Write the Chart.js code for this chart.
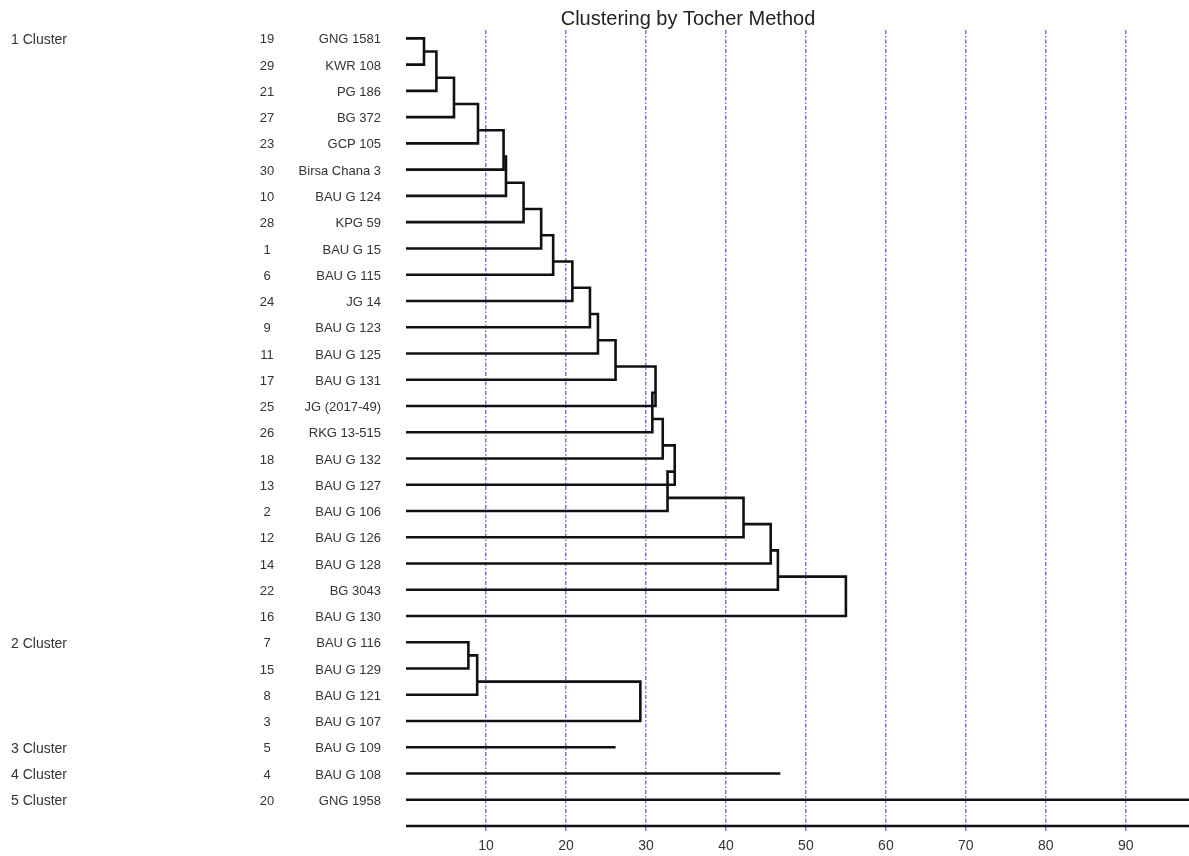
<!DOCTYPE html>
<html>
<head>
<meta charset="utf-8">
<script src="https://cdn.jsdelivr.net/npm/chart.js@4.4.1/dist/chart.umd.min.js"></script>
<style>
  html, body { margin: 0; padding: 0; background: #fff; }
  #wrap { width: 1189px; height: 856px; position: relative; }
</style>
</head>
<body>
<div id="wrap"><canvas id="myChart"></canvas></div>
<script>
// leaves, top to bottom
const leafIds = [19, 29, 21, 27, 23, 30, 10, 28, 1, 6, 24, 9, 11, 17, 25, 26, 18, 13, 2, 12, 14, 22, 16, 7, 15, 8, 3, 5, 4, 20];
const leafNames = ['GNG 1581', 'KWR 108', 'PG 186', 'BG 372', 'GCP 105', 'Birsa Chana 3', 'BAU G 124', 'KPG 59', 'BAU G 15', 'BAU G 115',
  'JG 14', 'BAU G 123', 'BAU G 125', 'BAU G 131', 'JG (2017-49)', 'RKG 13-515', 'BAU G 132', 'BAU G 127', 'BAU G 106', 'BAU G 126',
  'BAU G 128', 'BG 3043', 'BAU G 130', 'BAU G 116', 'BAU G 129', 'BAU G 121', 'BAU G 107', 'BAU G 109', 'BAU G 108', 'GNG 1958'];

const clusterNames = ['1 Cluster', '2 Cluster', '3 Cluster', '4 Cluster', '5 Cluster'];
const clusterFirstRow = [0, 23, 27, 28, 29];

// merges: children are a leaf row (number) or an earlier merge ('m' + index)
const mergeLeft = [0, 'm0', 'm1', 'm2', 'm3', 'm4', 'm5', 'm6', 'm7', 'm8', 'm9', 'm10', 'm11', 'm12', 'm13', 'm14', 'm15', 'm16', 'm17', 'm18', 'm19', 'm20', 23, 'm22', 'm23'];
const mergeRight = [1, 2, 3, 4, 5, 6, 7, 8, 9, 10, 11, 12, 13, 14, 15, 16, 17, 18, 19, 20, 21, 22, 24, 25, 26];
const mergeDist = [2.25, 3.8, 6.0, 9.0, 12.2, 12.5, 14.7, 16.9, 18.4, 20.8, 23.0, 24.0, 26.2, 31.2, 30.8, 32.1, 33.6, 32.7, 42.2, 45.6, 46.5, 55.0, 7.8, 8.9, 29.3];
const mergeStemRow = [0.5, 1.5, 2.5, 3.5, 4.5, 5.5, 6.5, 7.5, 8.5, 9.5, 10.5, 11.5, 12.5, 13.5, 14.5, 15.5, 16.5, 17.5, 18.5, 19.5, 20.5, null, 23.5, 24.5, null];

// single-member clusters: row and line length
const singleRows = [27, 28, 29];
const singleDist = [26.2, 46.8, 97.9];

const xTicks = [10, 20, 30, 40, 50, 60, 70, 80, 90];
const xMax = 97.9;
const axisRow = 30;

const titleText = 'Clustering by Tocher Method';

function childPos(c) {
  if (typeof c === 'number') return { x: 0, y: c };
  const k = parseInt(c.slice(1));
  return { x: mergeDist[k], y: mergeStemRow[k] };
}

const lineStyle = {
  borderColor: '#111',
  borderWidth: 2.6,
  pointRadius: 0,
  showLine: true,
  fill: false,
  tension: 0,
  borderJoinStyle: 'miter',
  clip: false
};

const datasets = [];
mergeDist.forEach((d, k) => {
  const a = childPos(mergeLeft[k]);
  const b = childPos(mergeRight[k]);
  datasets.push(Object.assign({
    data: [a, { x: d, y: a.y }, { x: d, y: b.y }, b]
  }, lineStyle));
});
singleRows.forEach((r, i) => {
  datasets.push(Object.assign({ data: [{ x: 0, y: r }, { x: singleDist[i], y: r }] }, lineStyle));
});
// bottom axis line
datasets.push(Object.assign({ data: [{ x: 0, y: axisRow }, { x: xMax, y: axisRow }] }, lineStyle));

const FONT = '"Liberation Sans", Arial, sans-serif';

const textPlugin = {
  id: 'textPlugin',
  afterDraw(chart) {
    const ctx = chart.ctx;
    const ys = chart.scales.y;
    ctx.save();
    ctx.fillStyle = '#333';
    ctx.textBaseline = 'middle';
    ctx.font = '13px ' + FONT;
    leafIds.forEach((id, i) => {
      const py = ys.getPixelForValue(i) + 1.5;
      ctx.textAlign = 'center';
      ctx.fillText(String(id), 267, py);
      ctx.textAlign = 'right';
      ctx.fillText(leafNames[i], 381, py);
    });
    ctx.textAlign = 'left';
    ctx.font = '14px ' + FONT;
    clusterNames.forEach((c, i) => {
      ctx.fillText(c, 11, ys.getPixelForValue(clusterFirstRow[i]) + 1.5);
    });
    ctx.fillStyle = '#222';
    ctx.textAlign = 'center';
    ctx.font = '20px ' + FONT;
    ctx.fillText(titleText, 688, 19);
    ctx.restore();
  }
};

const ctx = document.getElementById('myChart');
new Chart(ctx, {
  type: 'scatter',
  data: { datasets: datasets },
  options: {
    responsive: true,
    maintainAspectRatio: false,
    animation: false,
    layout: { padding: { left: 406, right: 0, top: 30, bottom: 0 } },
    plugins: {
      legend: { display: false },
      tooltip: { enabled: false }
    },
    scales: {
      x: {
        type: 'linear',
        min: 0,
        max: xMax,
        afterBuildTicks: (axis) => { axis.ticks = xTicks.map(v => ({ value: v })); },
        afterFit: (axis) => { axis.height = 30; },
        grid: {
          color: 'rgba(85,85,215,0.8)',
          lineWidth: 1.5,
          drawTicks: true,
          tickLength: 5,
          tickColor: 'rgba(85,85,215,0.8)'
        },
        border: { display: false, dash: [4, 2, 1.5, 2] },
        ticks: {
          color: '#333',
          padding: 7,
          font: { size: 14, family: FONT }
        }
      },
      y: {
        type: 'linear',
        display: false,
        reverse: true,
        min: -0.32,
        max: axisRow
      }
    }
  },
  plugins: [textPlugin]
});
</script>
</body>
</html>
